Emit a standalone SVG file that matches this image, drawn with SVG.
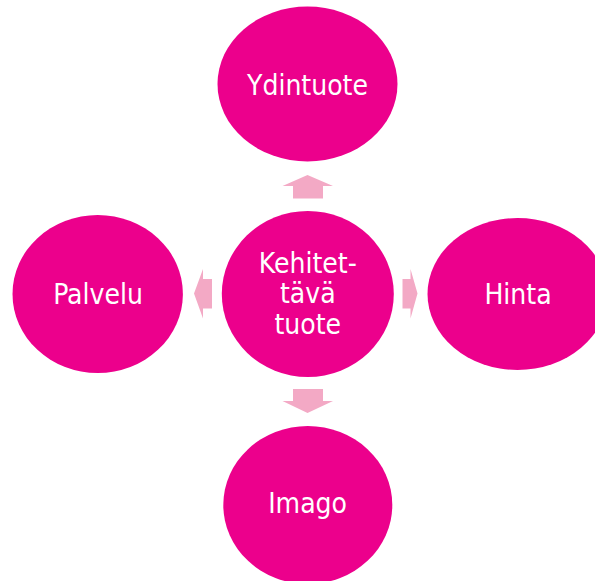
<svg xmlns="http://www.w3.org/2000/svg" width="595" height="581" viewBox="0 0 595 581">
<style>
.node{fill:#EC008C}
.lbl{fill:#FFFFFF;font-family:"DejaVu Sans Condensed","DejaVu Sans",sans-serif;font-stretch:condensed;font-size:28px;text-anchor:middle}
.arr{fill:#F3A9C5}
</style>
<rect width="595" height="581" fill="#FFFFFF"/>
<g id="connectors">
<polygon class="arr" points="307.5,175 333,186 323,186 323,198.5 293,198.5 293,186 282.5,186"/>
<polygon class="arr" points="293,389 323,389 323,401 333,401 307.5,413 282.5,401 293,401"/>
<polygon class="arr" points="194,293.5 203,269 203,279 212,279 212,308.5 203,308.5 203,318.5"/>
<polygon class="arr" points="417.5,293.5 410.5,269 410.5,279 402.5,279 402.5,308.5 410.5,308.5 410.5,318.5"/>
</g>
<g id="ydintuote">
<ellipse class="node" cx="307.5" cy="84" rx="90" ry="77.5"/>
<text class="lbl" x="307.5" y="94.5">Ydintuote</text>
</g>
<g id="kehitettava">
<ellipse class="node" cx="307.8" cy="294" rx="86" ry="83"/>
<text class="lbl" x="307.8" y="273">Kehitet-</text>
<text class="lbl" x="307.8" y="303">tävä</text>
<text class="lbl" x="307.8" y="333.5">tuote</text>
</g>
<g id="palvelu">
<ellipse class="node" cx="97.7" cy="294" rx="85.2" ry="79"/>
<text class="lbl" x="98" y="304">Palvelu</text>
</g>
<g id="hinta">
<ellipse class="node" cx="517.5" cy="294" rx="90" ry="76"/>
<text class="lbl" x="518" y="304">Hinta</text>
</g>
<g id="imago">
<ellipse class="node" cx="307.8" cy="505" rx="84.5" ry="79"/>
<text class="lbl" x="307.6" y="513">Imago</text>
</g>
</svg>
